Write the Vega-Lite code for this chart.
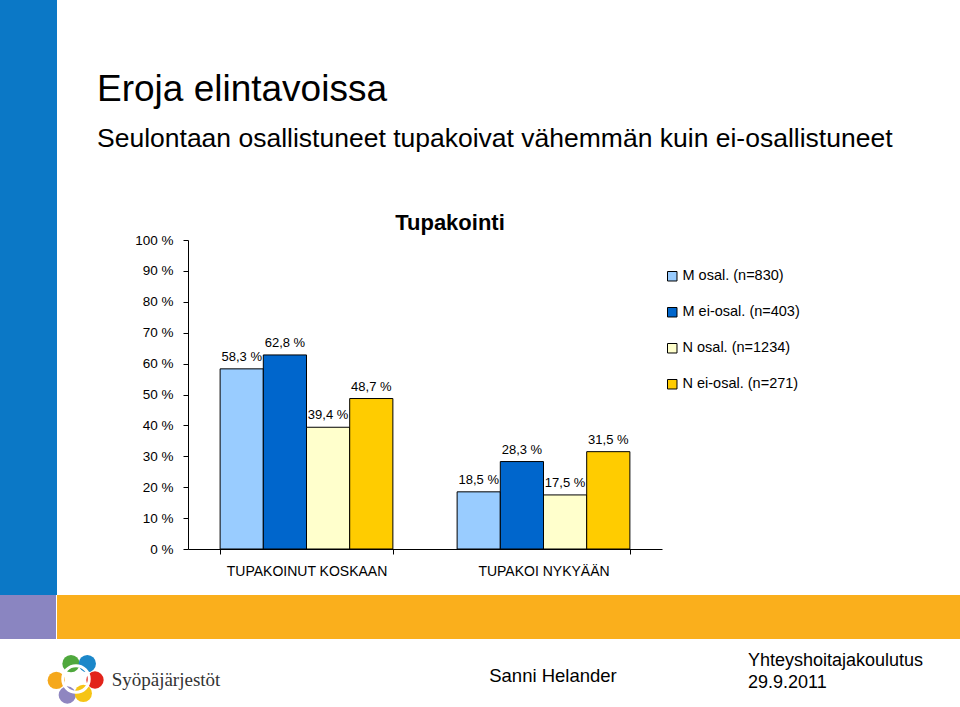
{
  "$schema": "https://vega.github.io/schema/vega-lite/v6.json",
  "padding": 0,
  "background": "white",
  "spacing": 0,
  "bounds": "full",
  "resolve": {"scale": {"color": "independent"}, "legend": {"color": "independent"}},
  "config": {
    "view": {"stroke": null},
    "font": "Liberation Sans",
    "concat": {"spacing": 0}
  },
  "vconcat": [
    {
      "hconcat": [
        {
          "width": 57, "height": 595,
          "data": {"values": [{}]},
          "mark": {"type": "point", "opacity": 0},
          "view": {"fill": "#0B78C6", "stroke": null}
        },
        {
          "vconcat": [
            {
              "width": 474, "height": 240,
              "data": {"values": [{}]},
              "mark": {"type": "point", "opacity": 0},
              "title": {
                "text": "Eroja elintavoissa",
                "subtitle": "Seulontaan osallistuneet tupakoivat vähemmän kuin ei-osallistuneet",
                "anchor": "start", "frame": "group", "orient": "top",
                "offset": -153, "dx": -91,
                "font": "Liberation Sans", "fontSize": 37, "fontWeight": "normal", "color": "black",
                "subtitleFont": "Liberation Sans", "subtitleFontSize": 26.5, "subtitleColor": "black",
                "subtitlePadding": 17
              }
            },
            {
              "width": 474, "height": 309,
              "data": {"values": [
                {"ryhma": "TUPAKOINUT KOSKAAN", "sarja": "M osal. (n=830)", "osuus": 58.3},
                {"ryhma": "TUPAKOINUT KOSKAAN", "sarja": "M ei-osal. (n=403)", "osuus": 62.8},
                {"ryhma": "TUPAKOINUT KOSKAAN", "sarja": "N osal. (n=1234)", "osuus": 39.4},
                {"ryhma": "TUPAKOINUT KOSKAAN", "sarja": "N ei-osal. (n=271)", "osuus": 48.7},
                {"ryhma": "TUPAKOI NYKYÄÄN", "sarja": "M osal. (n=830)", "osuus": 18.5},
                {"ryhma": "TUPAKOI NYKYÄÄN", "sarja": "M ei-osal. (n=403)", "osuus": 28.3},
                {"ryhma": "TUPAKOI NYKYÄÄN", "sarja": "N osal. (n=1234)", "osuus": 17.5},
                {"ryhma": "TUPAKOI NYKYÄÄN", "sarja": "N ei-osal. (n=271)", "osuus": 31.5}
              ]},
              "title": {
                "text": "Tupakointi", "anchor": "middle", "frame": "group", "dx": 25, "offset": -2,
                "font": "Liberation Sans", "fontSize": 22, "fontWeight": "bold", "color": "black"
              },
              "transform": [
                {"calculate": "replace(format(datum.osuus, '.1f'), '.', ',') + ' %'", "as": "nimio"}
              ],
              "encoding": {
                "x": {
                  "field": "ryhma", "type": "nominal", "title": null,
                  "sort": ["TUPAKOINUT KOSKAAN", "TUPAKOI NYKYÄÄN"],
                  "scale": {"paddingInner": 0.271, "paddingOuter": 0.1355},
                  "axis": {
                    "labelAngle": 0, "tickBand": "extent", "domainColor": "black", "tickColor": "black",
                    "tickSize": 5, "labelPadding": 10, "labelFontSize": 14, "labelColor": "black",
                    "labelFont": "Liberation Sans"
                  }
                },
                "xOffset": {
                  "field": "sarja", "type": "nominal",
                  "sort": ["M osal. (n=830)", "M ei-osal. (n=403)", "N osal. (n=1234)", "N ei-osal. (n=271)"],
                  "scale": {"paddingInner": 0, "paddingOuter": 0}
                },
                "y": {
                  "field": "osuus", "type": "quantitative", "title": null,
                  "scale": {"domain": [0, 100], "nice": false},
                  "axis": {
                    "values": [0, 10, 20, 30, 40, 50, 60, 70, 80, 90, 100],
                    "labelExpr": "datum.value + ' %'", "grid": false,
                    "domainColor": "black", "tickColor": "black", "tickSize": 5,
                    "labelPadding": 10, "labelFontSize": 13.5, "labelColor": "black",
                    "labelFont": "Liberation Sans"
                  }
                }
              },
              "layer": [
                {
                  "mark": {"type": "bar", "stroke": "black", "strokeWidth": 1},
                  "encoding": {
                    "color": {
                      "field": "sarja", "type": "nominal",
                      "scale": {
                        "domain": ["M osal. (n=830)", "M ei-osal. (n=403)", "N osal. (n=1234)", "N ei-osal. (n=271)"],
                        "range": ["#99CCFF", "#0066CC", "#FFFFCC", "#FFCC00"]
                      },
                      "legend": {
                        "title": null, "orient": "none", "legendX": 477, "legendY": 29,
                        "symbolType": "square", "symbolSize": 90, "symbolStrokeColor": "black",
                        "symbolStrokeWidth": 1, "labelFontSize": 14.5, "labelColor": "black",
                        "labelFont": "Liberation Sans", "rowPadding": 21, "labelOffset": 3, "padding": 0
                      }
                    }
                  }
                },
                {
                  "mark": {"type": "text", "baseline": "alphabetic", "dy": -8, "fontSize": 13, "color": "black", "font": "Liberation Sans"},
                  "encoding": {"text": {"field": "nimio"}}
                }
              ]
            }
          ],
          "spacing": 0,
          "bounds": "flush",
          "resolve": {"scale": {"color": "independent"}, "legend": {"color": "independent"}}
        }
      ],
      "spacing": 131,
      "bounds": "flush",
      "resolve": {"scale": {"color": "independent"}, "legend": {"color": "independent"}}
    },
    {
      "hconcat": [
        {
          "width": 56, "height": 44,
          "data": {"values": [{}]},
          "mark": {"type": "point", "opacity": 0},
          "view": {"fill": "#8A85C1", "stroke": null}
        },
        {
          "width": 903, "height": 44,
          "data": {"values": [{}]},
          "mark": {"type": "point", "opacity": 0},
          "view": {"fill": "#FAAF1C", "stroke": null}
        }
      ],
      "spacing": 1,
      "bounds": "flush"
    },
    {
      "hconcat": [
        {
          "width": 110, "height": 68,
          "layer": [
            {
              "data": {"values": [
                {"pallo": "vihreä", "lx": 71, "ly": 24.7},
                {"pallo": "sininen", "lx": 87.3, "ly": 24.7},
                {"pallo": "oranssi", "lx": 56.3, "ly": 41.3},
                {"pallo": "punainen", "lx": 95, "ly": 41},
                {"pallo": "violetti", "lx": 67.3, "ly": 56},
                {"pallo": "keltainen", "lx": 83.3, "ly": 54.3}
              ]},
              "mark": {"type": "point", "shape": "circle", "filled": true, "opacity": 1, "size": 300},
              "encoding": {
                "x": {"field": "lx", "type": "quantitative", "scale": {"domain": [0, 110]}, "axis": null},
                "y": {"field": "ly", "type": "quantitative", "scale": {"domain": [0, 68], "reverse": true}, "axis": null},
                "color": {
                  "field": "pallo", "type": "nominal", "legend": null,
                  "scale": {
                    "domain": ["vihreä", "sininen", "oranssi", "punainen", "violetti", "keltainen"],
                    "range": ["#4FA83D", "#1B87C9", "#F5A81C", "#E2231A", "#8F86C0", "#F6C415"]
                  }
                }
              }
            },
            {
              "data": {"values": [{"lx": 76, "ly": 40}]},
              "mark": {"type": "point", "shape": "circle", "filled": false, "stroke": "white", "strokeWidth": 3, "opacity": 1, "size": 700},
              "encoding": {
                "x": {"field": "lx", "type": "quantitative", "scale": {"domain": [0, 110]}, "axis": null},
                "y": {"field": "ly", "type": "quantitative", "scale": {"domain": [0, 68], "reverse": true}, "axis": null}
              }
            }
          ]
        },
        {
          "width": 112, "height": 64,
          "data": {"values": [{"teksti": "Syöpäjärjestöt"}]},
          "mark": {"type": "text", "align": "center", "baseline": "top", "font": "Liberation Serif", "fontSize": 19, "color": "#333333"},
          "encoding": {"text": {"field": "teksti"}}
        },
        {
          "width": 264, "height": 20,
          "data": {"values": [{}]},
          "mark": {"type": "point", "opacity": 0}
        },
        {
          "width": 134, "height": 56,
          "data": {"values": [{"teksti": "Sanni Helander"}]},
          "mark": {"type": "text", "align": "center", "baseline": "top", "font": "Liberation Sans", "fontSize": 18.5, "color": "black"},
          "encoding": {"text": {"field": "teksti"}}
        },
        {
          "width": 256, "height": 26,
          "data": {"values": [{"teksti": "Yhteyshoitajakoulutus\n\u00a029.9.2011"}]},
          "mark": {"type": "text", "align": "left", "baseline": "top", "lineBreak": "\n", "lineHeight": 22, "font": "Liberation Sans", "fontSize": 18, "color": "black"},
          "encoding": {"text": {"field": "teksti"}}
        }
      ],
      "spacing": 0,
      "bounds": "flush"
    }
  ]
}
